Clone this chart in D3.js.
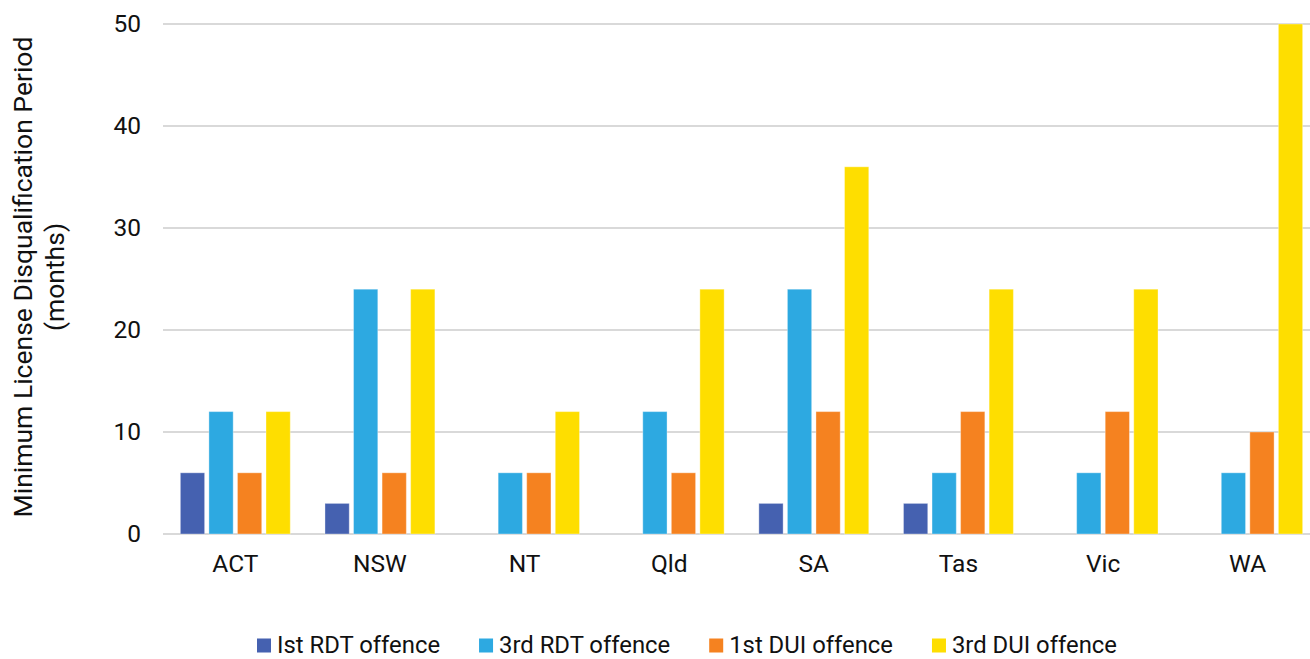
<!DOCTYPE html>
<html>
<head>
<meta charset="utf-8">
<script src="https://cdn.jsdelivr.net/npm/d3@7"></script>
<style>
  html, body { margin: 0; padding: 0; background: #fff; }
  svg { display: block; font-family: Roboto, "Noto Sans", sans-serif; }
</style>
</head>
<body>
<svg id="chart" width="1310" height="659"></svg>
<script>
// Jurisdictions along the x axis
const states = ["ACT", "NSW", "NT", "Qld", "SA", "Tas", "Vic", "WA"];

// Minimum licence disqualification period (months) per offence type
const firstRDT = [6, 3, 0, 0, 3, 3, 0, 0];
const thirdRDT = [12, 24, 6, 12, 24, 6, 6, 6];
const firstDUI = [6, 6, 6, 6, 12, 12, 12, 10];
const thirdDUI = [12, 24, 12, 24, 36, 24, 24, 50];

const seriesNames = ["Ist RDT offence", "3rd RDT offence", "1st DUI offence", "3rd DUI offence"];
const seriesColors = ["#4561b0", "#2da9e1", "#f58220", "#fede00"];
const seriesValues = [firstRDT, thirdRDT, firstDUI, thirdDUI];

const yTicks = [0, 10, 20, 30, 40, 50];

const svg = d3.select("#chart");

const x0 = d3.scaleBand()
  .domain(states)
  .range([163, 1320])
  .paddingInner(0.24)
  .paddingOuter(0.12);

const x1 = d3.scaleBand()
  .domain(d3.range(seriesNames.length))
  .range([0, x0.bandwidth()])
  .paddingInner(0.15);

const y = d3.scaleLinear().domain([0, 50]).range([534, 24]);

// Horizontal gridlines
svg.append("g")
  .selectAll("line")
  .data(yTicks)
  .join("line")
  .attr("x1", 163)
  .attr("x2", 1310)
  .attr("y1", d => y(d))
  .attr("y2", d => y(d))
  .attr("stroke", "#d9d9d9")
  .attr("stroke-width", 2);

// Y axis tick labels
const yAxis = d3.axisLeft(y).tickValues(yTicks).tickSize(0).tickPadding(0);
svg.append("g")
  .attr("transform", "translate(141,0)")
  .call(yAxis)
  .call(g => g.select(".domain").remove())
  .call(g => g.selectAll("text")
    .attr("font-family", "Roboto")
    .attr("font-size", 24.5)
    .attr("fill", "#111"));

// Bars
const groups = svg.append("g")
  .selectAll("g")
  .data(states)
  .join("g")
  .attr("transform", d => `translate(${x0(d)},0)`);

groups.selectAll("rect")
  .data((d, i) => seriesValues.map((vals, s) => ({ s, v: vals[i] })).filter(e => e.v > 0))
  .join("rect")
  .attr("x", d => x1(d.s))
  .attr("width", x1.bandwidth())
  .attr("y", d => y(d.v))
  .attr("height", d => y(0) - y(d.v))
  .attr("fill", d => seriesColors[d.s])
  .attr("stroke", "#ffffff")
  .attr("stroke-opacity", 0.35)
  .attr("stroke-width", 1);

// X axis category labels
const xAxis = d3.axisBottom(x0).tickSize(0).tickPadding(0);
svg.append("g")
  .attr("transform", "translate(0,555)")
  .call(xAxis)
  .call(g => g.select(".domain").remove())
  .call(g => g.selectAll("text")
    .attr("font-family", "Roboto")
    .attr("font-size", 24.5)
    .attr("fill", "#111"));

// Y axis title (two lines)
const title = svg.append("text")
  .attr("transform", "translate(0,277) rotate(-90)")
  .attr("text-anchor", "middle")
  .attr("font-size", 26.5)
  .attr("fill", "#111");
title.append("tspan").attr("x", 0).attr("y", 32).text("Minimum License Disqualification Period");
title.append("tspan").attr("x", 0).attr("y", 64).text("(months)");

// Legend
const legend = svg.append("g").attr("transform", "translate(0,652.5)");
let lx = 257;
seriesNames.forEach((name, i) => {
  const item = legend.append("g").attr("transform", `translate(${lx},0)`);
  item.append("rect")
    .attr("x", 0).attr("y", -14)
    .attr("width", 14).attr("height", 14)
    .attr("fill", seriesColors[i]);
  const t = item.append("text")
    .attr("x", 20).attr("y", 0)
    .attr("font-size", 23.85)
    .attr("fill", "#111")
    .text(name);
  lx += 20 + t.node().getComputedTextLength() + 39;
});
</script>
</body>
</html>
